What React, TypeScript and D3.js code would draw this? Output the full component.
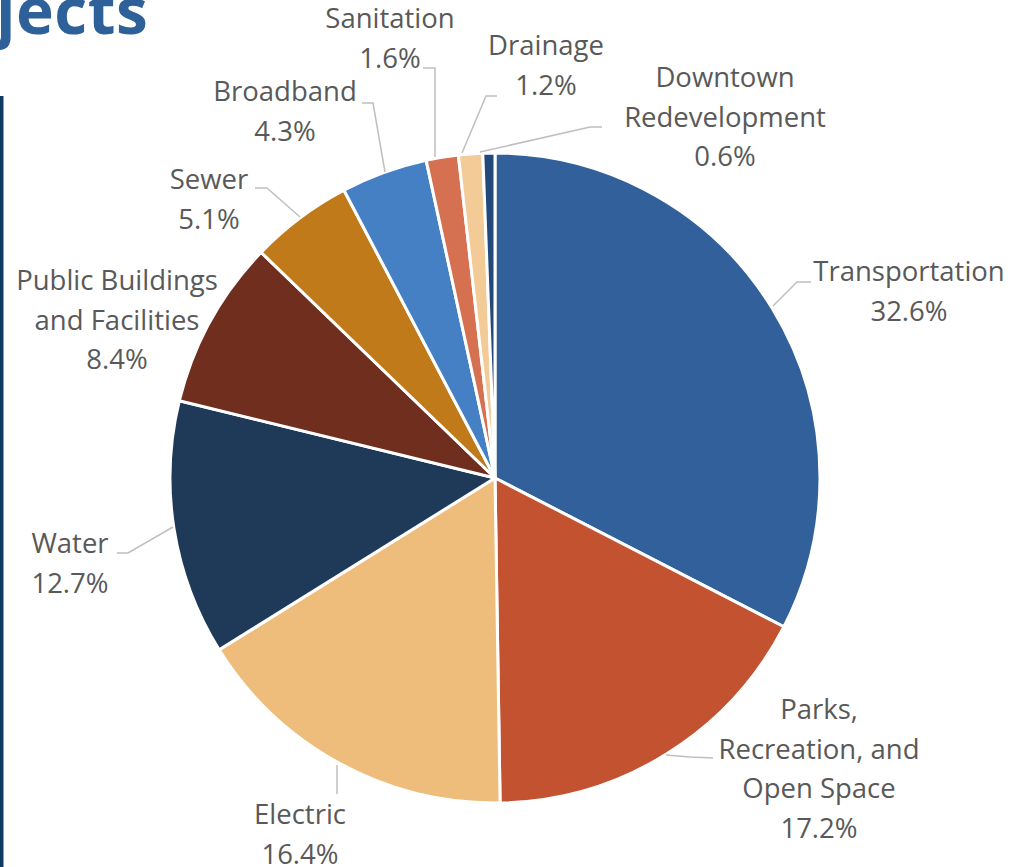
import React from "react";
import * as d3 from "d3";

const categories = [
  "Transportation",
  "Parks, Recreation, and Open Space",
  "Electric",
  "Water",
  "Public Buildings and Facilities",
  "Sewer",
  "Broadband",
  "Sanitation",
  "Drainage",
  "Downtown Redevelopment",
];
const values = [32.6, 17.2, 16.4, 12.7, 8.4, 5.1, 4.3, 1.6, 1.2, 0.6];
const colors = [
  "#31609a",
  "#c25230",
  "#eebd7c",
  "#1f3a58",
  "#6f2e1e",
  "#c07a1a",
  "#4580c4",
  "#d57050",
  "#f2cb96",
  "#23497a",
];
const labelLines = [
  ["Transportation"],
  ["Parks,", "Recreation, and", "Open Space"],
  ["Electric"],
  ["Water"],
  ["Public Buildings", "and Facilities"],
  ["Sewer"],
  ["Broadband"],
  ["Sanitation"],
  ["Drainage"],
  ["Downtown", "Redevelopment"],
];
// label anchor (center x, first baseline y)
const labelPos: [number, number][] = [
  [909, 281],
  [819, 719],
  [300, 824],
  [70, 553],
  [117, 290],
  [209, 189],
  [285, 101],
  [390, 28],
  [546, 55],
  [725, 87],
];
// leader lines
const leaders: ([number, number][] | null)[] = [
  [[811, 282], [797, 282], [773, 306]],
  [[713, 758], [690, 757], [666, 755]],
  [[337, 794], [337, 765]],
  [[117, 553], [128, 553], [173, 527]],
  null,
  [[255, 188], [267, 188], [300, 217]],
  [[362, 103], [373, 103], [385, 172]],
  [[423, 68], [435, 68], [435, 157]],
  [[497, 96], [486, 96], [462, 153]],
  [[602, 127], [590, 127], [480, 152]],
];

const W = 1011;
const H = 867;
const cx = 495;
const cy = 478;
const R = 325;

export default function App() {
  const pie = d3
    .pie<number>()
    .sort(null)
    .value((d) => d)
    .startAngle(0)
    .endAngle(2 * Math.PI);
  const arcs = pie(values);
  const arcGen = d3.arc<d3.PieArcDatum<number>>().innerRadius(0).outerRadius(R);
  const line = d3.line();
  const font = "'Open Sans', 'Noto Sans', sans-serif";
  const lh = 39.5;

  return (
    <svg
      width={W}
      height={H}
      style={{ position: "absolute", left: 0, top: 0, background: "#fff" }}
    >
      <rect x={0} y={0} width={W} height={H} fill="#ffffff" />
      <text
        x={-4}
        y={34}
        fontFamily={font}
        fontWeight={700}
        fontSize={64}
        letterSpacing={0.5}
        fill="#2e6199"
      >
        jects
      </text>
      <rect x={0} y={96} width={3.5} height={H - 96} fill="#0f3a63" />
      <g transform={`translate(${cx},${cy})`}>
        {arcs.map((a, i) => (
          <path
            key={i}
            d={arcGen(a) || ""}
            fill={colors[i]}
            stroke="#ffffff"
            strokeWidth={3}
            strokeLinejoin="round"
          />
        ))}
      </g>
      {leaders.map((pts, i) =>
        pts ? (
          <path
            key={"l" + i}
            d={line(pts) || ""}
            fill="none"
            stroke="#bfbfbf"
            strokeWidth={1.5}
          />
        ) : null
      )}
      {categories.map((c, i) => {
        const [x, y] = labelPos[i];
        const lines = [...labelLines[i], `${values[i].toFixed(1)}%`];
        return (
          <text
            key={c}
            x={x}
            y={y}
            textAnchor="middle"
            fontFamily={font}
            fontSize={27.5}
            fill="#595959"
          >
            {lines.map((t, j) => (
              <tspan key={j} x={x} y={y + j * lh}>
                {t}
              </tspan>
            ))}
          </text>
        );
      })}
    </svg>
  );
}
